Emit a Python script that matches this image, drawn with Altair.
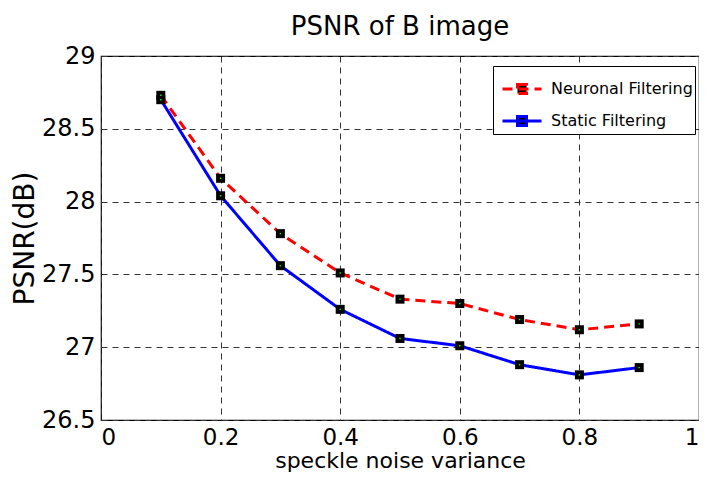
import altair as alt
import pandas as pd

variance = [0.1, 0.2, 0.3, 0.4, 0.5, 0.6, 0.7, 0.8, 0.9]
neuronal = [28.73, 28.16, 27.78, 27.51, 27.33, 27.30, 27.19, 27.12, 27.16]
static = [28.70, 28.04, 27.56, 27.26, 27.06, 27.01, 26.88, 26.81, 26.86]
series_names = ["Neuronal Filtering", "Static Filtering"]
x_ticks = [0, 0.2, 0.4, 0.6, 0.8, 1]
y_ticks = [26.5, 27, 27.5, 28, 28.5, 29]

rows = []
for name, vals in zip(series_names, [neuronal, static]):
    for v, p in zip(variance, vals):
        rows.append({"variance": v, "psnr": p, "series": name})
df = pd.DataFrame(rows)

FONT = "DejaVu Sans"

x = alt.X("variance:Q", scale=alt.Scale(domain=[0, 1], nice=False),
          axis=alt.Axis(values=x_ticks, format="~g", title="speckle noise variance"))
y = alt.Y("psnr:Q", scale=alt.Scale(domain=[26.5, 29], nice=False, zero=False),
          axis=alt.Axis(values=y_ticks, format="~g", title="PSNR(dB)"))

legend_path = "M-1,0H1M-0.23,-0.23H0.23V0.23H-0.23Z"
leg = alt.Legend(title=None, labelExpr="datum.label + '  '")

lines = alt.Chart(df).mark_line(strokeWidth=3).encode(
    x=x, y=y,
    color=alt.Color("series:N", scale=alt.Scale(domain=series_names, range=["#ff0000", "#0000ff"]),
                    legend=leg),
    strokeDash=alt.StrokeDash("series:N", scale=alt.Scale(domain=series_names, range=[[10, 6], [1, 0]]),
                              legend=leg),
)

squares = alt.Chart(df).mark_point(shape="square", filled=True, size=81, color="black", opacity=1).encode(
    x=x, y=y, detail="series:N"
)
dots = alt.Chart(df).mark_point(shape="square", filled=True, size=2, color="#00ff00", opacity=1).encode(
    x=x, y=y, detail="series:N"
)

chart = alt.layer(lines, squares, dots).properties(
    width=598, height=364,
    title=alt.Title("PSNR of B image", fontSize=26, font=FONT, fontWeight="normal", offset=4, color="black"),
    autosize=alt.AutoSizeParams(type="none"),
    padding={"left": 93, "top": 48, "right": 0, "bottom": 61},
).configure_view(
    stroke="black", strokeWidth=1.2
).configure_axis(
    domain=False, ticks=False, grid=True, gridColor="#333333", gridDash=[6, 5], gridWidth=1,
    labelFont=FONT, labelColor="black",
    titleFont=FONT, titleFontWeight="normal", titleColor="black",
).configure_axisX(
    labelFontSize=23, labelPadding=6, titleFontSize=22, titlePadding=1,
).configure_axisY(
    labelFontSize=24, labelPadding=6, titleFontSize=28, titlePadding=2,
).configure_legend(
    orient="none", legendX=392, legendY=10,
    symbolType=legend_path, symbolSize=1521, symbolStrokeWidth=3, symbolFillColor="black",
    symbolOffset=6,
    labelFont=FONT, labelFontSize=16, labelColor="black", labelOffset=8,
    strokeColor="black", fillColor="white", padding=2, rowPadding=0,
    cornerRadius=0,
)

chart.save("out.html", embed_options={"renderer": "svg", "actions": False})
